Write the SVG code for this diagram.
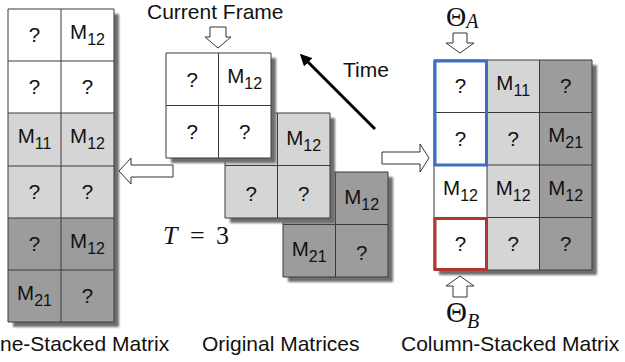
<svg xmlns="http://www.w3.org/2000/svg" width="625" height="362" viewBox="0 0 625 362">
  <style>
    .w { fill: #ffffff; }
    .l { fill: #d5d5d5; }
    .d { fill: #9c9c9c; }
    .grid { stroke: #3a3a3a; stroke-width: 1; fill: none; }
    .shadow { fill: #6e6e6e; filter: url(#soft); }
    .cell { font-family: "Liberation Sans", Arial, sans-serif; font-size: 20.5px; fill: #111; text-anchor: middle; }
    .sub { font-size: 16px; }
    .lbl { font-family: "Liberation Sans", Arial, sans-serif; font-size: 21px; fill: #111; }
    .math { font-family: "Liberation Serif", "Times New Roman", serif; fill: #111; }
    .harrow { fill: #ffffff; stroke: #333; stroke-width: 1; }
  </style>
  <defs>
    <filter id="soft" x="-10%" y="-10%" width="120%" height="120%">
      <feGaussianBlur stdDeviation="1.2"/>
    </filter>
    <marker id="head" markerWidth="4" markerHeight="4" refX="2.5" refY="2" orient="auto" markerUnits="strokeWidth">
      <path d="M0,0 L4,2 L0,4 Z" fill="#000"/>
    </marker>
  </defs>

  <rect width="625" height="362" fill="#ffffff"/>

  <!-- stacked matrix on the left: 2 columns x 6 rows -->
  <g id="left-matrix">
    <rect class="shadow" x="13" y="14" width="106" height="313"/>
    <rect class="w" x="8" y="9" width="106" height="104"/>
    <rect class="l" x="8" y="113" width="106" height="105"/>
    <rect class="d" x="8" y="218" width="106" height="104"/>
    <path class="grid" d="M8,9 H114 V322 H8 Z M61,9 V322 M8,61 H114 M8,113 H114 M8,166 H114 M8,218 H114 M8,270 H114"/>
    <text class="cell" x="34.5" y="42">?</text>
    <text class="cell" x="87.5" y="38.5">M<tspan class="sub" dy="6">12</tspan></text>
    <text class="cell" x="34.5" y="94">?</text>
    <text class="cell" x="87.5" y="94">?</text>
    <text class="cell" x="34.5" y="142.5">M<tspan class="sub" dy="6">11</tspan></text>
    <text class="cell" x="87.5" y="142.5">M<tspan class="sub" dy="6">12</tspan></text>
    <text class="cell" x="34.5" y="199">?</text>
    <text class="cell" x="87.5" y="199">?</text>
    <text class="cell" x="34.5" y="251">?</text>
    <text class="cell" x="87.5" y="247.5">M<tspan class="sub" dy="6">12</tspan></text>
    <text class="cell" x="34.5" y="299.5">M<tspan class="sub" dy="6">21</tspan></text>
    <text class="cell" x="87.5" y="303">?</text>
  </g>

  <!-- original matrices, oldest at the back -->
  <g id="matrix-t3">
    <rect class="shadow" x="288" y="177" width="105" height="105"/>
    <rect class="d" x="283" y="172" width="105" height="105"/>
    <path class="grid" d="M283,172 H388 V277 H283 Z M335.5,172 V277 M283,224.5 H388"/>
    <text class="cell" x="361.7" y="203.5">M<tspan class="sub" dy="6">12</tspan></text>
    <text class="cell" x="309.2" y="256">M<tspan class="sub" dy="6">21</tspan></text>
    <text class="cell" x="361.7" y="259.5">?</text>
  </g>

  <g id="matrix-t2">
    <rect class="shadow" x="230" y="118" width="105" height="105"/>
    <rect class="l" x="225" y="113" width="105" height="105"/>
    <path class="grid" d="M225,113 H330 V218 H225 Z M277.5,113 V218 M225,165.5 H330"/>
    <text class="cell" x="303.7" y="144.5">M<tspan class="sub" dy="6">12</tspan></text>
    <text class="cell" x="251.2" y="200.5">?</text>
    <text class="cell" x="303.7" y="200.5">?</text>
  </g>

  <g id="matrix-t1">
    <rect class="shadow" x="171" y="58" width="105" height="105"/>
    <rect class="w" x="166" y="53" width="105" height="105"/>
    <path class="grid" d="M166,53 H271 V158 H166 Z M218.5,53 V158 M166,105.5 H271"/>
    <text class="cell" x="192.2" y="86.5">?</text>
    <text class="cell" x="244.7" y="83">M<tspan class="sub" dy="6">12</tspan></text>
    <text class="cell" x="192.2" y="139">?</text>
    <text class="cell" x="244.7" y="139">?</text>
  </g>

  <!-- column-stacked matrix: 3 columns x 4 rows -->
  <g id="right-matrix">
    <rect class="shadow" x="439" y="65" width="158" height="210"/>
    <rect class="w" x="434" y="60" width="53" height="210"/>
    <rect class="l" x="487" y="60" width="52.5" height="210"/>
    <rect class="d" x="539.5" y="60" width="52.5" height="210"/>
    <path class="grid" d="M434,60 H592 V270 H434 Z M487,60 V270 M539.5,60 V270 M434,112.5 H592 M434,165 H592 M434,217.5 H592"/>
    <text class="cell" x="460.5" y="93">?</text>
    <text class="cell" x="513.2" y="89.5">M<tspan class="sub" dy="6">11</tspan></text>
    <text class="cell" x="565.7" y="93">?</text>
    <text class="cell" x="460.5" y="145.5">?</text>
    <text class="cell" x="513.2" y="145.5">?</text>
    <text class="cell" x="565.7" y="142">M<tspan class="sub" dy="6">21</tspan></text>
    <text class="cell" x="460.5" y="194.5">M<tspan class="sub" dy="6">12</tspan></text>
    <text class="cell" x="513.2" y="194.5">M<tspan class="sub" dy="6">12</tspan></text>
    <text class="cell" x="565.7" y="194.5">M<tspan class="sub" dy="6">12</tspan></text>
    <text class="cell" x="460.5" y="250.5">?</text>
    <text class="cell" x="513.2" y="250.5">?</text>
    <text class="cell" x="565.7" y="250.5">?</text>
    <rect x="435" y="61" width="51.5" height="104" fill="none" stroke="#3f6fc0" stroke-width="3"/>
    <rect x="435" y="218.5" width="51.5" height="51" fill="none" stroke="#b0362e" stroke-width="3"/>
  </g>

  <!-- connectors -->
  <g id="connectors">
    <polygon class="harrow" points="210,27 226,27 226,37 231,37 218,48 205,37 210,37"/>
    <polygon class="harrow" points="453,33 467,33 467,43 474,43 460,53 446,43 453,43"/>
    <polygon class="harrow" points="453,297 467,297 467,286 474,286 460,276 446,286 453,286"/>
    <polygon class="harrow" points="173,165 131,165 131,158 119,171 131,184 131,177 173,177"/>
    <polygon class="harrow" points="382,152 420,152 420,144 429,158 420,172 420,164 382,164"/>
    <line x1="375" y1="129" x2="303" y2="57" stroke="#000" stroke-width="3" marker-end="url(#head)"/>
  </g>

  <!-- labels -->
  <g id="labels">
    <text class="lbl" x="147" y="19">Current Frame</text>
    <text class="lbl" x="343" y="77">Time</text>
    <text class="math" x="446" y="26" font-size="28">Θ<tspan font-style="italic" font-size="20" dy="2">A</tspan></text>
    <text class="math" x="446" y="322" font-size="29">Θ<tspan font-style="italic" font-size="20" dy="6">B</tspan></text>
    <text class="math" font-size="26" y="244"><tspan x="163" font-style="italic">T</tspan><tspan x="190">=</tspan><tspan x="216">3</tspan></text>
    <text class="lbl" x="0" y="351">ne-Stacked Matrix</text>
    <text class="lbl" x="202" y="351">Original Matrices</text>
    <text class="lbl" x="401" y="351">Column-Stacked Matrix</text>
  </g>
</svg>
